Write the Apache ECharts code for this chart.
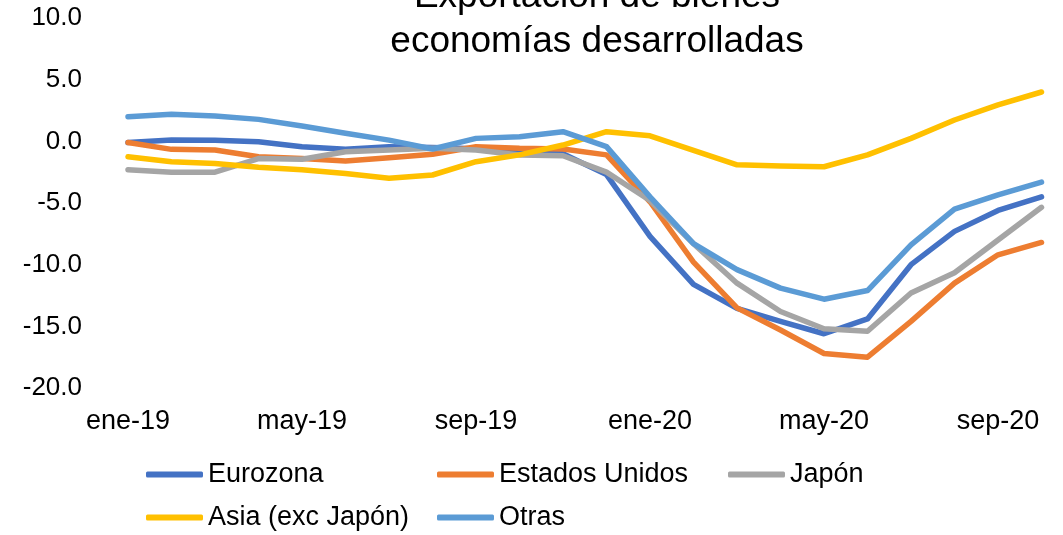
<!DOCTYPE html>
<html>
<head>
<meta charset="utf-8">
<script src="https://cdn.jsdelivr.net/npm/echarts@6/dist/echarts.min.js"></script>
<style>
html,body{margin:0;padding:0;background:#fff;}
#chart{width:1063px;height:535px;}
</style>
</head>
<body>
<div id="chart"></div>
<script>
var categories = ['ene-19','feb-19','mar-19','abr-19','may-19','jun-19','jul-19','ago-19','sep-19','oct-19','nov-19','dic-19',
                  'ene-20','feb-20','mar-20','abr-20','may-20','jun-20','jul-20','ago-20','sep-20','oct-20'];
var eurozona = [-0.1, 0.1, 0.08, -0.03, -0.44, -0.65, -0.44, -0.5, -0.6, -0.7, -1.0, -2.7,
                -7.7, -11.6, -13.55, -14.6, -15.6, -14.4, -10.0, -7.3, -5.6, -4.5];
var estadosUnidos = [-0.1, -0.65, -0.7, -1.25, -1.4, -1.6, -1.33, -1.05, -0.44, -0.57, -0.62, -1.1,
                     -4.9, -9.8, -13.5, -15.3, -17.2, -17.5, -14.6, -11.5, -9.2, -8.2];
var japon = [-2.3, -2.5, -2.5, -1.4, -1.45, -0.84, -0.7, -0.57, -0.7, -1.1, -1.17, -2.5,
             -4.8, -8.3, -11.5, -13.8, -15.2, -15.4, -12.3, -10.65, -8.0, -5.35];
var asia = [-1.25, -1.65, -1.8, -2.1, -2.3, -2.6, -3.0, -2.73, -1.65, -1.1, -0.3, 0.78,
            0.45, -0.73, -1.9, -2.0, -2.06, -1.1, 0.24, 1.73, 2.95, 4.0];
var otras = [2.0, 2.2, 2.05, 1.78, 1.24, 0.65, 0.1, -0.62, 0.24, 0.37, 0.78, -0.43,
             -4.5, -8.3, -10.4, -11.9, -12.8, -12.1, -8.4, -5.5, -4.35, -3.3];
var seriesNames = ['Eurozona', 'Estados Unidos', 'Japón', 'Asia (exc Japón)', 'Otras'];
var seriesData = [eurozona, estadosUnidos, japon, asia, otras];
var colors = ['#4472C4', '#ED7D31', '#A5A5A5', '#FFC000', '#5B9BD5'];

var FONT = 'Liberation Sans, Arial, sans-serif';
var chart = echarts.init(document.getElementById('chart'));

var legendPos = [[146, 461], [437, 461], [728, 461], [146, 504], [437, 504]];
var legends = seriesNames.map(function (n, i) {
  return {
    data: [n], left: legendPos[i][0], top: legendPos[i][1], orient: 'horizontal',
    icon: 'roundRect', itemWidth: 57, itemHeight: 6, itemGap: 5, padding: 0,
    textStyle: { fontSize: 27, color: '#000', fontFamily: FONT }
  };
});

var option = {
  animation: false,
  backgroundColor: '#fff',
  color: colors,
  title: {
    text: 'Exportación de bienes\neconomías desarrolladas',
    left: 597, top: -26, textAlign: 'center', padding: 0,
    textStyle: { fontSize: 37, lineHeight: 45, fontWeight: 'normal', color: '#000', fontFamily: FONT }
  },
  legend: legends,
  grid: { left: 128, right: 21.5, top: 18, bottom: 147, containLabel: false },
  xAxis: {
    type: 'category', data: categories, boundaryGap: false,
    axisLine: { show: false }, axisTick: { show: false }, splitLine: { show: false },
    axisLabel: { interval: 3, margin: 20, fontSize: 27, color: '#000', fontFamily: FONT }
  },
  yAxis: {
    type: 'value', min: -20, max: 10, interval: 5,
    axisLine: { show: false }, axisTick: { show: false }, splitLine: { show: false },
    axisLabel: { margin: 46, fontSize: 26, color: '#000', fontFamily: FONT,
      formatter: function (v) { return v.toFixed(1); } }
  },
  series: seriesNames.map(function (n, i) {
    return {
      name: n, type: 'line', data: seriesData[i], symbol: 'none', showSymbol: false,
      lineStyle: { width: 5.5, color: colors[i], cap: 'round', join: 'round' },
      itemStyle: { color: colors[i] }
    };
  })
};
chart.setOption(option);
</script>
</body>
</html>
